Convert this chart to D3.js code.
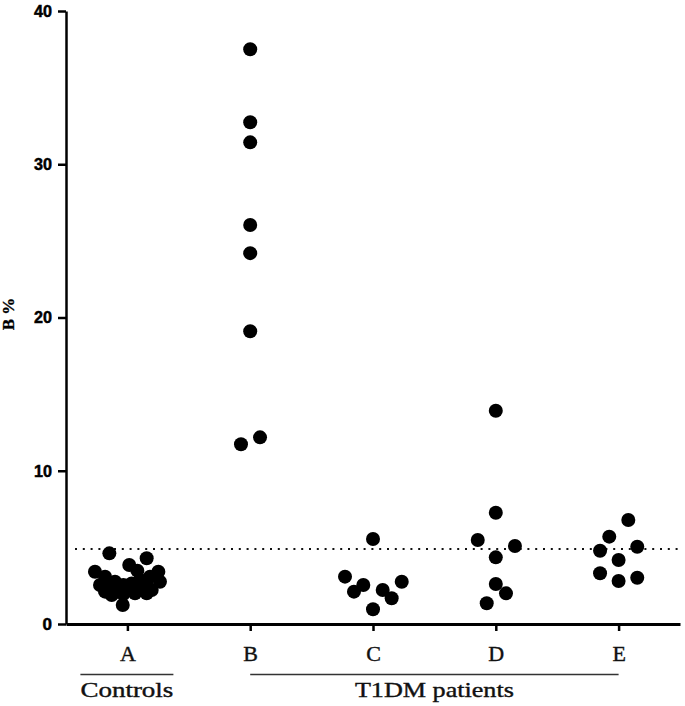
<!DOCTYPE html>
<html>
<head>
<meta charset="utf-8">
<script src="https://cdn.jsdelivr.net/npm/d3@7"></script>
<style>
  html, body { margin: 0; padding: 0; background: #fff; }
  svg { display: block; }
</style>
</head>
<body>
<svg id="chart" width="685" height="706"></svg>
<script>
// ---- data ----
const categories = ["A", "B", "C", "D", "E"];
const yTicks = [0, 10, 20, 30, 40];
const yLabel = "B %";
const cutoff = 4.9;

// values per group (B %) and horizontal jitter (fraction of category step)
const valuesA = [4.61, 4.29, 3.85, 3.48, 3.41, 3.41, 1.24, 3.09, 2.76, 3.09, 2.87, 2.54, 2.43,
                 2.54, 2.65, 2.54, 2.76, 2.11, 2.11, 2.22, 2.22, 2.22, 1.96, 2.00, 2.00, 1.89];
const jitterA = [-0.147, 0.157, 0.015, 0.081, -0.264, 0.252, -0.038, -0.182, -0.101, 0.184, 0.103, -0.223, -0.142,
                 -0.033, 0.035, 0.157, 0.265, -0.182, -0.087, 0.007, 0.089, 0.198, -0.033, 0.062, 0.157, -0.128];
const valuesB = [37.5, 32.74, 31.43, 26.04, 24.2, 19.1, 11.73, 12.18];
const jitterB = [0, 0, 0, 0, 0, 0, -0.075, 0.080];
const valuesC = [5.55, 3.09, 2.54, 2.11, 2.76, 2.22, 1.68, 0.96];
const jitterC = [0, -0.228, -0.079, -0.155, 0.234, 0.079, 0.152, 0];
const valuesD = [13.92, 7.26, 5.48, 5.09, 4.35, 2.61, 2.00, 1.35];
const jitterD = [0, 0, -0.147, 0.156, 0, 0, 0.083, -0.074];
const valuesE = [6.79, 5.70, 4.78, 5.04, 4.18, 3.31, 2.81, 3.02];
const jitterE = [0.079, -0.076, -0.151, 0.152, 0, -0.151, 0, 0.152];

const groupLabels = [
  { text: "Controls", from: "A", to: "A" },
  { text: "T1DM patients", from: "B", to: "E" }
];

// ---- build ----
const groups = [
  ["A", valuesA, jitterA], ["B", valuesB, jitterB], ["C", valuesC, jitterC],
  ["D", valuesD, jitterD], ["E", valuesE, jitterE]
];
const points = [];
groups.forEach(([cat, vals, jit]) => vals.forEach((v, i) => points.push({ cat, v, j: jit[i] })));

const svg = d3.select("#chart");
svg.append("rect").attr("width", 685).attr("height", 706).attr("fill", "#fff");

const y = d3.scaleLinear().domain([0, 40]).range([624, 11]);
const x = d3.scalePoint().domain(categories).range([66, 680]).padding(0.5);
const jx = d3.scaleLinear().domain([0, 1]).range([0, x.step()]);

const serif = "'Liberation Serif', 'Times New Roman', serif";

// cutoff dotted line
svg.append("line")
  .attr("x1", 75).attr("x2", 680)
  .attr("y1", y(cutoff)).attr("y2", y(cutoff))
  .attr("stroke", "#111").attr("stroke-width", 2)
  .attr("stroke-dasharray", "2,5.8");

// points
svg.append("g").selectAll("circle").data(points).join("circle")
  .attr("cx", d => x(d.cat) + jx(d.j))
  .attr("cy", d => y(d.v))
  .attr("r", 7)
  .attr("fill", "#000");

// y axis
const gy = svg.append("g").attr("transform", "translate(66,0)")
  .call(d3.axisLeft(y).tickValues(yTicks).tickSize(8).tickSizeOuter(0).tickPadding(6));
gy.select(".domain").attr("stroke", "#000").attr("stroke-width", 2.5);
gy.selectAll(".tick line").attr("stroke", "#000").attr("stroke-width", 2.5);
gy.selectAll(".tick text")
  .attr("font-family", "'Liberation Sans', Arial, sans-serif")
  .attr("font-weight", "bold").attr("font-size", 17).attr("fill", "#000")
  .attr("stroke", "#000").attr("stroke-width", 0.5)
  .attr("textLength", 18).attr("lengthAdjust", "spacingAndGlyphs")
  .filter(d => d === 0).attr("textLength", null);

// x axis
const gx = svg.append("g").attr("transform", "translate(0,624)")
  .call(d3.axisBottom(x).tickSize(7).tickSizeOuter(0).tickPadding(14));
gx.select(".domain").attr("stroke", "#000").attr("stroke-width", 3);
gx.selectAll(".tick line").attr("stroke", "#000").attr("stroke-width", 2.5);
gx.selectAll(".tick text")
  .attr("font-family", serif)
  .attr("font-size", 22).attr("fill", "#111")
  .attr("stroke", "#111").attr("stroke-width", 0.4);

// y label
svg.append("text")
  .attr("transform", "translate(13.5,314) rotate(-90)")
  .attr("text-anchor", "middle")
  .attr("font-family", serif)
  .attr("font-weight", "bold").attr("font-size", 17)
  .attr("stroke", "#000").attr("stroke-width", 0.3)
  .text(yLabel);

// group brackets
const gg = svg.append("g");
groupLabels.forEach(g => {
  let x1 = x(g.from), x2 = x(g.to);
  let tw;
  if (g.from === g.to) { x1 = x(g.from) - 47; x2 = x(g.from) + 46; tw = 93; }
  else { tw = 159; }
  gg.append("line").attr("x1", x1).attr("x2", x2).attr("y1", 674.5).attr("y2", 674.5)
    .attr("stroke", "#333").attr("stroke-width", 1.5);
  gg.append("text")
    .attr("x", (x1 + x2) / 2).attr("y", 697)
    .attr("text-anchor", "middle")
    .attr("font-family", serif)
    .attr("font-size", 22).attr("fill", "#111")
    .attr("stroke", "#111").attr("stroke-width", 0.4)
    .attr("textLength", tw).attr("lengthAdjust", "spacingAndGlyphs")
    .text(g.text);
});
</script>
</body>
</html>
